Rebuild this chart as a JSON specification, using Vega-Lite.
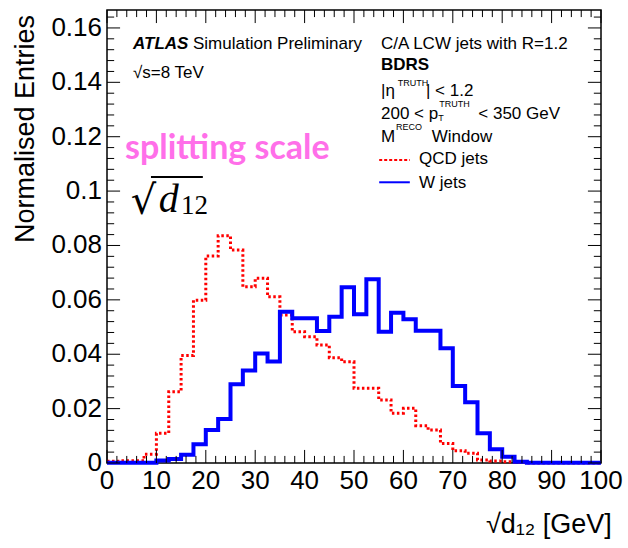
{
  "$schema": "https://vega.github.io/schema/vega-lite/v6.json",
  "width": 494,
  "height": 453,
  "autosize": "none",
  "padding": {"left": 107, "top": 10, "right": 27, "bottom": 85},
  "background": "white",
  "config": {
    "view": {"stroke": "black", "strokeWidth": 1.5},
    "text": {"font": "Liberation Sans", "fontSize": 17, "align": "left", "baseline": "alphabetic", "color": "black"},
    "rule": {"color": "black", "strokeWidth": 1}
  },
  "datasets": {
    "hist": [
      {"x": 0, "qcd": 0.0006, "w": 0.0001}, {"x": 2.5, "qcd": 0.0008, "w": 0.0001},
      {"x": 5, "qcd": 0.0008, "w": 0.0001}, {"x": 7.5, "qcd": 0.0032, "w": 0.0001},
      {"x": 10, "qcd": 0.0109, "w": 0.0009}, {"x": 12.5, "qcd": 0.0262, "w": 0.0015},
      {"x": 15, "qcd": 0.0395, "w": 0.003}, {"x": 17.5, "qcd": 0.0599, "w": 0.0069},
      {"x": 20, "qcd": 0.0761, "w": 0.0121}, {"x": 22.5, "qcd": 0.0836, "w": 0.0162},
      {"x": 25, "qcd": 0.0783, "w": 0.029}, {"x": 27.5, "qcd": 0.0648, "w": 0.034},
      {"x": 30, "qcd": 0.0679, "w": 0.0403}, {"x": 32.5, "qcd": 0.0611, "w": 0.0373},
      {"x": 35, "qcd": 0.0544, "w": 0.0556}, {"x": 37.5, "qcd": 0.0483, "w": 0.0532},
      {"x": 40, "qcd": 0.0464, "w": 0.0532}, {"x": 42.5, "qcd": 0.0434, "w": 0.0485},
      {"x": 45, "qcd": 0.0387, "w": 0.0538}, {"x": 47.5, "qcd": 0.0372, "w": 0.0646},
      {"x": 50, "qcd": 0.0275, "w": 0.0547}, {"x": 52.5, "qcd": 0.0275, "w": 0.0676},
      {"x": 55, "qcd": 0.0232, "w": 0.0483}, {"x": 57.5, "qcd": 0.0183, "w": 0.0553},
      {"x": 60, "qcd": 0.0201, "w": 0.0529}, {"x": 62.5, "qcd": 0.0137, "w": 0.0486},
      {"x": 65, "qcd": 0.0121, "w": 0.0486}, {"x": 67.5, "qcd": 0.0072, "w": 0.0422},
      {"x": 70, "qcd": 0.0045, "w": 0.0283}, {"x": 72.5, "qcd": 0.0036, "w": 0.0223},
      {"x": 75, "qcd": 0.0011, "w": 0.0109}, {"x": 77.5, "qcd": 0.0007, "w": 0.0051},
      {"x": 80, "qcd": 0.0005, "w": 0.0023}, {"x": 82.5, "qcd": 0.0003, "w": 0.0005},
      {"x": 85, "qcd": 0, "w": 0.0001}, {"x": 87.5, "qcd": 0, "w": 0.0001},
      {"x": 90, "qcd": 0, "w": 0.0001}, {"x": 92.5, "qcd": 0, "w": 0.0001},
      {"x": 95, "qcd": 0, "w": 0.0001}, {"x": 97.5, "qcd": 0, "w": 0.0001},
      {"x": 100, "qcd": 0, "w": 0.0001}
    ],
    "xticks": [
      {"pos": 0, "major": 1}, {"pos": 2, "major": 0}, {"pos": 4, "major": 0}, {"pos": 6, "major": 0}, {"pos": 8, "major": 0},
      {"pos": 10, "major": 1}, {"pos": 12, "major": 0}, {"pos": 14, "major": 0}, {"pos": 16, "major": 0}, {"pos": 18, "major": 0},
      {"pos": 20, "major": 1}, {"pos": 22, "major": 0}, {"pos": 24, "major": 0}, {"pos": 26, "major": 0}, {"pos": 28, "major": 0},
      {"pos": 30, "major": 1}, {"pos": 32, "major": 0}, {"pos": 34, "major": 0}, {"pos": 36, "major": 0}, {"pos": 38, "major": 0},
      {"pos": 40, "major": 1}, {"pos": 42, "major": 0}, {"pos": 44, "major": 0}, {"pos": 46, "major": 0}, {"pos": 48, "major": 0},
      {"pos": 50, "major": 1}, {"pos": 52, "major": 0}, {"pos": 54, "major": 0}, {"pos": 56, "major": 0}, {"pos": 58, "major": 0},
      {"pos": 60, "major": 1}, {"pos": 62, "major": 0}, {"pos": 64, "major": 0}, {"pos": 66, "major": 0}, {"pos": 68, "major": 0},
      {"pos": 70, "major": 1}, {"pos": 72, "major": 0}, {"pos": 74, "major": 0}, {"pos": 76, "major": 0}, {"pos": 78, "major": 0},
      {"pos": 80, "major": 1}, {"pos": 82, "major": 0}, {"pos": 84, "major": 0}, {"pos": 86, "major": 0}, {"pos": 88, "major": 0},
      {"pos": 90, "major": 1}, {"pos": 92, "major": 0}, {"pos": 94, "major": 0}, {"pos": 96, "major": 0}, {"pos": 98, "major": 0},
      {"pos": 100, "major": 1}
    ],
    "yticks": [
      {"pos": 0, "major": 1}, {"pos": 0.004, "major": 0}, {"pos": 0.008, "major": 0}, {"pos": 0.012, "major": 0}, {"pos": 0.016, "major": 0},
      {"pos": 0.02, "major": 1}, {"pos": 0.024, "major": 0}, {"pos": 0.028, "major": 0}, {"pos": 0.032, "major": 0}, {"pos": 0.036, "major": 0},
      {"pos": 0.04, "major": 1}, {"pos": 0.044, "major": 0}, {"pos": 0.048, "major": 0}, {"pos": 0.052, "major": 0}, {"pos": 0.056, "major": 0},
      {"pos": 0.06, "major": 1}, {"pos": 0.064, "major": 0}, {"pos": 0.068, "major": 0}, {"pos": 0.072, "major": 0}, {"pos": 0.076, "major": 0},
      {"pos": 0.08, "major": 1}, {"pos": 0.084, "major": 0}, {"pos": 0.088, "major": 0}, {"pos": 0.092, "major": 0}, {"pos": 0.096, "major": 0},
      {"pos": 0.1, "major": 1}, {"pos": 0.104, "major": 0}, {"pos": 0.108, "major": 0}, {"pos": 0.112, "major": 0}, {"pos": 0.116, "major": 0},
      {"pos": 0.12, "major": 1}, {"pos": 0.124, "major": 0}, {"pos": 0.128, "major": 0}, {"pos": 0.132, "major": 0}, {"pos": 0.136, "major": 0},
      {"pos": 0.14, "major": 1}, {"pos": 0.144, "major": 0}, {"pos": 0.148, "major": 0}, {"pos": 0.152, "major": 0}, {"pos": 0.156, "major": 0},
      {"pos": 0.16, "major": 1}, {"pos": 0.164, "major": 0}
    ],
    "titles": [
      {"kind": "ytitle", "text": "Normalised Entries", "x": -14.8, "y": 0.1648},
      {"kind": "xtitle", "text": "√d₁₂ [GeV]", "x": 102.2, "y": -0.02574}
    ],
    "notes": [
      {"kind": "atlas", "text": "ATLAS", "x": 5.26, "y": 0.15226},
      {"kind": "plain", "text": "Simulation Preliminary", "x": 17.41, "y": 0.15226},
      {"kind": "plain", "text": "√s=8 TeV", "x": 5.26, "y": 0.1416},
      {"kind": "plain", "text": "C/A LCW jets with R=1.2", "x": 55.47, "y": 0.15226},
      {"kind": "bold", "text": "BDRS", "x": 55.47, "y": 0.14439},
      {"kind": "plain", "text": "|η", "x": 55.47, "y": 0.13498},
      {"kind": "small", "text": "TRUTH", "x": 58.85, "y": 0.13865},
      {"kind": "plain", "text": "| < 1.2", "x": 64.57, "y": 0.13498},
      {"kind": "plain", "text": "200 < p", "x": 55.47, "y": 0.12652},
      {"kind": "small", "text": "T", "x": 67.07, "y": 0.1258},
      {"kind": "small", "text": "TRUTH", "x": 67.27, "y": 0.13082},
      {"kind": "plain", "text": "< 350 GeV", "x": 75.16, "y": 0.12652},
      {"kind": "plain", "text": "M", "x": 55.47, "y": 0.11806},
      {"kind": "small", "text": "RECO", "x": 58.5, "y": 0.12247},
      {"kind": "plain", "text": "Window", "x": 65.73, "y": 0.11806},
      {"kind": "plain", "text": "QCD jets", "x": 63.16, "y": 0.10997},
      {"kind": "plain", "text": "W jets", "x": 63.16, "y": 0.10114},
      {"kind": "pink", "text": "splitting scale", "x": 3.64, "y": 0.11181},
      {"kind": "radical", "text": "√", "x": 4.8, "y": 0.0915},
      {"kind": "dvar", "text": "d", "x": 10.5, "y": 0.09242},
      {"kind": "dsub", "text": "12", "x": 15.0, "y": 0.09158}
    ],
    "lines": [
      {"kind": "qcd", "x": 55.1, "x2": 61.3, "y": 0.11144},
      {"kind": "w", "x": 55.1, "x2": 61.3, "y": 0.10324},
      {"kind": "bar", "x": 8.9, "x2": 19.4, "y": 0.10518}
    ]
  },
  "layer": [
    {
      "data": {"name": "hist"},
      "mark": {"type": "line", "interpolate": "step-after", "color": "#ff0000", "strokeWidth": 3, "strokeDash": [2.5, 2.5]},
      "encoding": {
        "x": {"field": "x", "type": "quantitative", "scale": {"domain": [0, 100], "nice": false, "zero": false}, "axis": null},
        "y": {"field": "qcd", "type": "quantitative", "scale": {"domain": [0, 0.1666], "nice": false, "zero": false}, "axis": null}
      }
    },
    {
      "data": {"name": "hist"},
      "mark": {"type": "line", "interpolate": "step-after", "color": "#0000ff", "strokeWidth": 4},
      "encoding": {
        "x": {"field": "x", "type": "quantitative", "scale": {"domain": [0, 100], "nice": false, "zero": false}, "axis": null},
        "y": {"field": "w", "type": "quantitative", "scale": {"domain": [0, 0.1666], "nice": false, "zero": false}, "axis": null}
      }
    },
    {
      "data": {"name": "xticks"},
      "transform": [{"filter": "datum.major === 1"}],
      "mark": {"type": "rule"},
      "encoding": {
        "x": {"field": "pos", "type": "quantitative", "scale": {"domain": [0, 100], "nice": false, "zero": false}, "axis": null},
        "y": {"datum": 0, "type": "quantitative", "scale": {"domain": [0, 0.1666], "nice": false, "zero": false}, "axis": null},
        "y2": {"datum": 0.0048}
      }
    },
    {
      "data": {"name": "xticks"},
      "transform": [{"filter": "datum.major === 0"}],
      "mark": {"type": "rule"},
      "encoding": {
        "x": {"field": "pos", "type": "quantitative", "scale": {"domain": [0, 100], "nice": false, "zero": false}, "axis": null},
        "y": {"datum": 0, "type": "quantitative", "scale": {"domain": [0, 0.1666], "nice": false, "zero": false}, "axis": null},
        "y2": {"datum": 0.0026}
      }
    },
    {
      "data": {"name": "xticks"},
      "transform": [{"filter": "datum.major === 1"}],
      "mark": {"type": "rule"},
      "encoding": {
        "x": {"field": "pos", "type": "quantitative", "scale": {"domain": [0, 100], "nice": false, "zero": false}, "axis": null},
        "y": {"datum": 0.1666, "type": "quantitative", "scale": {"domain": [0, 0.1666], "nice": false, "zero": false}, "axis": null},
        "y2": {"datum": 0.1618}
      }
    },
    {
      "data": {"name": "xticks"},
      "transform": [{"filter": "datum.major === 0"}],
      "mark": {"type": "rule"},
      "encoding": {
        "x": {"field": "pos", "type": "quantitative", "scale": {"domain": [0, 100], "nice": false, "zero": false}, "axis": null},
        "y": {"datum": 0.1666, "type": "quantitative", "scale": {"domain": [0, 0.1666], "nice": false, "zero": false}, "axis": null},
        "y2": {"datum": 0.164}
      }
    },
    {
      "data": {"name": "yticks"},
      "transform": [{"filter": "datum.major === 1"}],
      "mark": {"type": "rule"},
      "encoding": {
        "y": {"field": "pos", "type": "quantitative", "scale": {"domain": [0, 0.1666], "nice": false, "zero": false}, "axis": null},
        "x": {"datum": 0, "type": "quantitative", "scale": {"domain": [0, 100], "nice": false, "zero": false}, "axis": null},
        "x2": {"datum": 2.65}
      }
    },
    {
      "data": {"name": "yticks"},
      "transform": [{"filter": "datum.major === 0"}],
      "mark": {"type": "rule"},
      "encoding": {
        "y": {"field": "pos", "type": "quantitative", "scale": {"domain": [0, 0.1666], "nice": false, "zero": false}, "axis": null},
        "x": {"datum": 0, "type": "quantitative", "scale": {"domain": [0, 100], "nice": false, "zero": false}, "axis": null},
        "x2": {"datum": 1.45}
      }
    },
    {
      "data": {"name": "yticks"},
      "transform": [{"filter": "datum.major === 1"}],
      "mark": {"type": "rule"},
      "encoding": {
        "y": {"field": "pos", "type": "quantitative", "scale": {"domain": [0, 0.1666], "nice": false, "zero": false}, "axis": null},
        "x": {"datum": 100, "type": "quantitative", "scale": {"domain": [0, 100], "nice": false, "zero": false}, "axis": null},
        "x2": {"datum": 97.35}
      }
    },
    {
      "data": {"name": "yticks"},
      "transform": [{"filter": "datum.major === 0"}],
      "mark": {"type": "rule"},
      "encoding": {
        "y": {"field": "pos", "type": "quantitative", "scale": {"domain": [0, 0.1666], "nice": false, "zero": false}, "axis": null},
        "x": {"datum": 100, "type": "quantitative", "scale": {"domain": [0, 100], "nice": false, "zero": false}, "axis": null},
        "x2": {"datum": 98.55}
      }
    },
    {
      "data": {"name": "xticks"},
      "transform": [{"filter": "datum.major === 1"}],
      "mark": {"type": "text", "fontSize": 26, "align": "center", "baseline": "top", "dy": 5},
      "encoding": {
        "x": {"field": "pos", "type": "quantitative", "scale": {"domain": [0, 100], "nice": false, "zero": false}, "axis": null},
        "y": {"datum": 0, "type": "quantitative", "scale": {"domain": [0, 0.1666], "nice": false, "zero": false}, "axis": null},
        "text": {"field": "pos", "type": "quantitative", "format": "~g"}
      }
    },
    {
      "data": {"name": "yticks"},
      "transform": [{"filter": "datum.major === 1"}],
      "mark": {"type": "text", "fontSize": 26, "align": "right", "baseline": "middle", "dx": -5},
      "encoding": {
        "y": {"field": "pos", "type": "quantitative", "scale": {"domain": [0, 0.1666], "nice": false, "zero": false}, "axis": null},
        "x": {"datum": 0, "type": "quantitative", "scale": {"domain": [0, 100], "nice": false, "zero": false}, "axis": null},
        "text": {"field": "pos", "type": "quantitative", "format": "~g"}
      }
    },
    {
      "data": {"name": "titles"},
      "transform": [{"filter": "datum.kind === 'ytitle'"}],
      "mark": {"type": "text", "fontSize": 27, "angle": 270, "align": "right", "baseline": "alphabetic"},
      "encoding": {
        "x": {"field": "x", "type": "quantitative", "scale": {"domain": [0, 100], "nice": false, "zero": false}, "axis": null},
        "y": {"field": "y", "type": "quantitative", "scale": {"domain": [0, 0.1666], "nice": false, "zero": false}, "axis": null},
        "text": {"field": "text"}
      }
    },
    {
      "data": {"name": "titles"},
      "transform": [{"filter": "datum.kind === 'xtitle'"}],
      "mark": {"type": "text", "fontSize": 27, "align": "right", "baseline": "alphabetic"},
      "encoding": {
        "x": {"field": "x", "type": "quantitative", "scale": {"domain": [0, 100], "nice": false, "zero": false}, "axis": null},
        "y": {"field": "y", "type": "quantitative", "scale": {"domain": [0, 0.1666], "nice": false, "zero": false}, "axis": null},
        "text": {"field": "text"}
      }
    },
    {
      "data": {"name": "notes"},
      "transform": [{"filter": "datum.kind === 'atlas'"}],
      "mark": {"type": "text", "fontWeight": "bold", "fontStyle": "italic", "fontSize": 17},
      "encoding": {
        "x": {"field": "x", "type": "quantitative", "scale": {"domain": [0, 100], "nice": false, "zero": false}, "axis": null},
        "y": {"field": "y", "type": "quantitative", "scale": {"domain": [0, 0.1666], "nice": false, "zero": false}, "axis": null},
        "text": {"field": "text"}
      }
    },
    {
      "data": {"name": "notes"},
      "transform": [{"filter": "datum.kind === 'plain'"}],
      "mark": {"type": "text", "fontSize": 17},
      "encoding": {
        "x": {"field": "x", "type": "quantitative", "scale": {"domain": [0, 100], "nice": false, "zero": false}, "axis": null},
        "y": {"field": "y", "type": "quantitative", "scale": {"domain": [0, 0.1666], "nice": false, "zero": false}, "axis": null},
        "text": {"field": "text"}
      }
    },
    {
      "data": {"name": "notes"},
      "transform": [{"filter": "datum.kind === 'bold'"}],
      "mark": {"type": "text", "fontSize": 17, "fontWeight": "bold"},
      "encoding": {
        "x": {"field": "x", "type": "quantitative", "scale": {"domain": [0, 100], "nice": false, "zero": false}, "axis": null},
        "y": {"field": "y", "type": "quantitative", "scale": {"domain": [0, 0.1666], "nice": false, "zero": false}, "axis": null},
        "text": {"field": "text"}
      }
    },
    {
      "data": {"name": "notes"},
      "transform": [{"filter": "datum.kind === 'small'"}],
      "mark": {"type": "text", "fontSize": 9},
      "encoding": {
        "x": {"field": "x", "type": "quantitative", "scale": {"domain": [0, 100], "nice": false, "zero": false}, "axis": null},
        "y": {"field": "y", "type": "quantitative", "scale": {"domain": [0, 0.1666], "nice": false, "zero": false}, "axis": null},
        "text": {"field": "text"}
      }
    },
    {
      "data": {"name": "notes"},
      "transform": [{"filter": "datum.kind === 'pink'"}],
      "mark": {"type": "text", "fontSize": 34, "font": "Lato", "fontWeight": "bold", "color": "#ff6fe9"},
      "encoding": {
        "x": {"field": "x", "type": "quantitative", "scale": {"domain": [0, 100], "nice": false, "zero": false}, "axis": null},
        "y": {"field": "y", "type": "quantitative", "scale": {"domain": [0, 0.1666], "nice": false, "zero": false}, "axis": null},
        "text": {"field": "text"}
      }
    },
    {
      "data": {"name": "notes"},
      "transform": [{"filter": "datum.kind === 'radical'"}],
      "mark": {"type": "text", "fontSize": 40, "font": "DejaVu Serif"},
      "encoding": {
        "x": {"field": "x", "type": "quantitative", "scale": {"domain": [0, 100], "nice": false, "zero": false}, "axis": null},
        "y": {"field": "y", "type": "quantitative", "scale": {"domain": [0, 0.1666], "nice": false, "zero": false}, "axis": null},
        "text": {"field": "text"}
      }
    },
    {
      "data": {"name": "notes"},
      "transform": [{"filter": "datum.kind === 'dvar'"}],
      "mark": {"type": "text", "fontSize": 40, "font": "Liberation Serif", "fontStyle": "italic"},
      "encoding": {
        "x": {"field": "x", "type": "quantitative", "scale": {"domain": [0, 100], "nice": false, "zero": false}, "axis": null},
        "y": {"field": "y", "type": "quantitative", "scale": {"domain": [0, 0.1666], "nice": false, "zero": false}, "axis": null},
        "text": {"field": "text"}
      }
    },
    {
      "data": {"name": "notes"},
      "transform": [{"filter": "datum.kind === 'dsub'"}],
      "mark": {"type": "text", "fontSize": 27, "font": "Liberation Serif"},
      "encoding": {
        "x": {"field": "x", "type": "quantitative", "scale": {"domain": [0, 100], "nice": false, "zero": false}, "axis": null},
        "y": {"field": "y", "type": "quantitative", "scale": {"domain": [0, 0.1666], "nice": false, "zero": false}, "axis": null},
        "text": {"field": "text"}
      }
    },
    {
      "data": {"name": "lines"},
      "transform": [{"filter": "datum.kind === 'qcd'"}],
      "mark": {"type": "rule", "color": "#ff0000", "strokeWidth": 2, "strokeDash": [3, 2]},
      "encoding": {
        "x": {"field": "x", "type": "quantitative", "scale": {"domain": [0, 100], "nice": false, "zero": false}, "axis": null},
        "x2": {"field": "x2"},
        "y": {"field": "y", "type": "quantitative", "scale": {"domain": [0, 0.1666], "nice": false, "zero": false}, "axis": null}
      }
    },
    {
      "data": {"name": "lines"},
      "transform": [{"filter": "datum.kind === 'w'"}],
      "mark": {"type": "rule", "color": "#0000ff", "strokeWidth": 2},
      "encoding": {
        "x": {"field": "x", "type": "quantitative", "scale": {"domain": [0, 100], "nice": false, "zero": false}, "axis": null},
        "x2": {"field": "x2"},
        "y": {"field": "y", "type": "quantitative", "scale": {"domain": [0, 0.1666], "nice": false, "zero": false}, "axis": null}
      }
    },
    {
      "data": {"name": "lines"},
      "transform": [{"filter": "datum.kind === 'bar'"}],
      "mark": {"type": "rule", "color": "black", "strokeWidth": 2},
      "encoding": {
        "x": {"field": "x", "type": "quantitative", "scale": {"domain": [0, 100], "nice": false, "zero": false}, "axis": null},
        "x2": {"field": "x2"},
        "y": {"field": "y", "type": "quantitative", "scale": {"domain": [0, 0.1666], "nice": false, "zero": false}, "axis": null}
      }
    }
  ]
}
